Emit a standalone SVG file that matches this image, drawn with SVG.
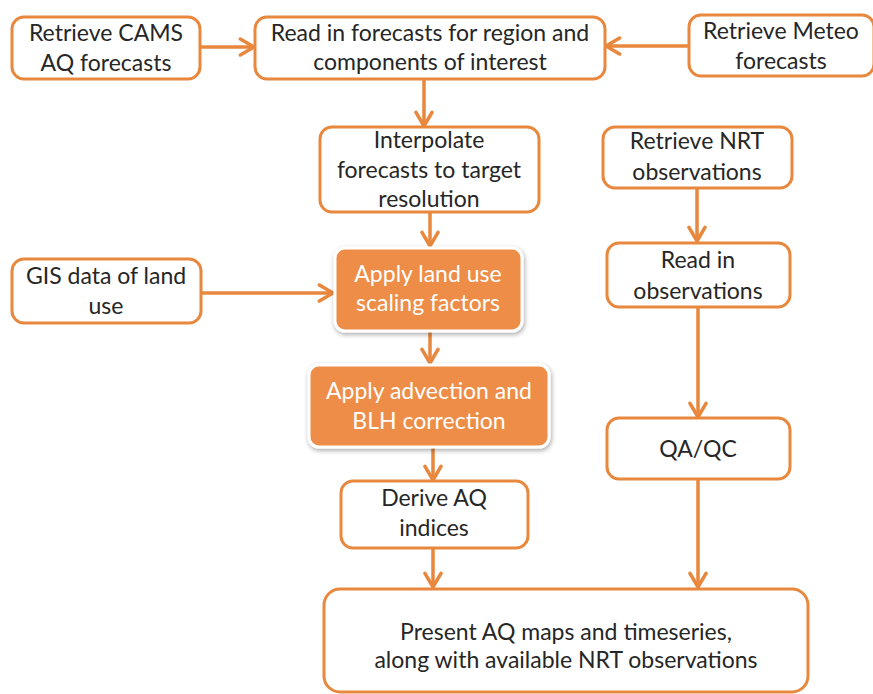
<svg xmlns="http://www.w3.org/2000/svg" width="873" height="694" viewBox="0 0 873 694">
  <style>
    .box { fill: #ffffff; stroke: #E8883E; stroke-width: 3; }
    .hot { fill: #ED8D47; stroke: #ffffff; stroke-width: 3; filter: url(#glow); }
    .lbl { font-family: Lato, "Open Sans", "Liberation Sans", sans-serif; font-size: 23px; fill: #262626; text-anchor: middle; }
    .lbl.w { fill: #ffffff; }
    .edge { fill: none; stroke: #E8883E; stroke-width: 3.5; marker-end: url(#head); }
  </style>
  <defs>
    <marker id="head" viewBox="0 0 12 12" refX="10.5" refY="6" markerWidth="5.5" markerHeight="5.5" orient="auto" markerUnits="strokeWidth">
      <path d="M2,1 L10.5,6 L2,11" fill="none" stroke="#E8883E" stroke-width="2.2" stroke-linecap="round" stroke-linejoin="round"/>
    </marker>
    <filter id="glow" x="-10%" y="-15%" width="120%" height="135%">
      <feGaussianBlur in="SourceAlpha" stdDeviation="2.5"/>
      <feOffset dx="1" dy="2" result="b"/>
      <feComponentTransfer><feFuncA type="linear" slope="0.35"/></feComponentTransfer>
      <feMerge><feMergeNode/><feMergeNode in="SourceGraphic"/></feMerge>
    </filter>
  </defs>
  <rect width="873" height="694" fill="#ffffff"/>

  <g id="connectors">
    <path class="edge" d="M200,47 L254,47"/>
    <path class="edge" d="M689,46 L606,46"/>
    <path class="edge" d="M424,79 L424,126"/>
    <path class="edge" d="M430,212 L430,246"/>
    <path class="edge" d="M201,293 L333,293"/>
    <path class="edge" d="M430,331 L430,363"/>
    <path class="edge" d="M433,448 L433,480"/>
    <path class="edge" d="M433,548 L433,587"/>
    <path class="edge" d="M697,188 L697,241"/>
    <path class="edge" d="M698,307 L698,417"/>
    <path class="edge" d="M698,479 L698,587"/>
  </g>

  <g id="cams">
    <rect class="box" x="12" y="17" width="188" height="62" rx="12"/>
    <text class="lbl" x="106" y="41">Retrieve CAMS</text>
    <text class="lbl" x="106" y="71">AQ forecasts</text>
  </g>
  <g id="read-forecasts">
    <rect class="box" x="255" y="17" width="350" height="62" rx="12"/>
    <text class="lbl" x="430" y="41">Read in forecasts for region and</text>
    <text class="lbl" x="430" y="70">components of interest</text>
  </g>
  <g id="meteo">
    <rect class="box" x="689" y="15" width="185" height="61" rx="12"/>
    <text class="lbl" x="781" y="39">Retrieve Meteo</text>
    <text class="lbl" x="781" y="69">forecasts</text>
  </g>
  <g id="interpolate">
    <rect class="box" x="320" y="127" width="219" height="85" rx="12"/>
    <text class="lbl" x="429" y="148">Interpolate</text>
    <text class="lbl" x="429" y="178">forecasts to target</text>
    <text class="lbl" x="429" y="207">resolution</text>
  </g>
  <g id="nrt">
    <rect class="box" x="603" y="127" width="189" height="61" rx="12"/>
    <text class="lbl" x="697" y="149">Retrieve NRT</text>
    <text class="lbl" x="697" y="180">observations</text>
  </g>
  <g id="gis">
    <rect class="box" x="12" y="259" width="189" height="64" rx="12"/>
    <text class="lbl" x="106" y="284">GIS data of land</text>
    <text class="lbl" x="106" y="314">use</text>
  </g>
  <g id="land-use">
    <rect class="hot" x="335" y="248" width="187" height="83" rx="10"/>
    <text class="lbl w" x="428" y="282">Apply land use</text>
    <text class="lbl w" x="428" y="311">scaling factors</text>
  </g>
  <g id="read-obs">
    <rect class="box" x="607" y="243" width="183" height="64" rx="12"/>
    <text class="lbl" x="698" y="268">Read in</text>
    <text class="lbl" x="698" y="299">observations</text>
  </g>
  <g id="advection">
    <rect class="hot" x="309" y="365" width="240" height="82" rx="10"/>
    <text class="lbl w" x="429" y="399">Apply advection and</text>
    <text class="lbl w" x="429" y="429">BLH correction</text>
  </g>
  <g id="qaqc">
    <rect class="box" x="607" y="418" width="183" height="61" rx="12"/>
    <text class="lbl" x="698" y="457">QA/QC</text>
  </g>
  <g id="derive">
    <rect class="box" x="341" y="481" width="187" height="67" rx="12"/>
    <text class="lbl" x="434" y="506">Derive AQ</text>
    <text class="lbl" x="434" y="536">indices</text>
  </g>
  <g id="present">
    <rect class="box" x="324" y="589" width="484" height="103" rx="16"/>
    <text class="lbl" x="566" y="640">Present AQ maps and timeseries,</text>
    <text class="lbl" x="566" y="668">along with available NRT observations</text>
  </g>
</svg>
